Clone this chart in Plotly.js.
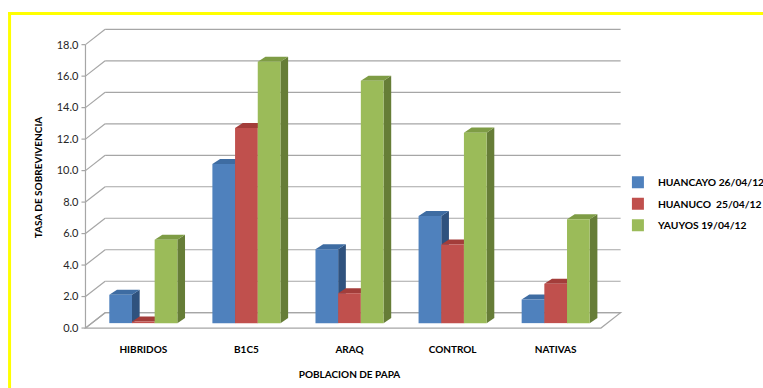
<!DOCTYPE html>
<html>
<head>
<meta charset="utf-8">
<script src="https://cdn.plot.ly/plotly-3.0.1.min.js"></script>
<style>html,body{margin:0;padding:0;background:#fff;}#chart{width:763px;height:388px;}</style>
</head>
<body>
<div id="chart"></div>
<script>
// ---- data ----
const categories = ['HIBRIDOS', 'B1C5', 'ARAQ', 'CONTROL', 'NATIVAS'];
const huancayo = [1.8, 10.1, 4.7, 6.8, 1.5];
const huanuco = [0.1, 12.4, 1.9, 5.0, 2.5];
const yauyos = [5.3, 16.6, 15.4, 12.1, 6.6];
const seriesNames = ['HUANCAYO 26/04/12', 'HUANUCO \u00a025/04/12', 'YAUYOS 19/04/12'];
const yTicks = [0, 2, 4, 6, 8, 10, 12, 14, 16, 18];

// ---- styling ----
const frontColors = ['#4F81BD', '#C0504D', '#9BBB59'];
const topColors = ['#3E6CA2', '#A33D3A', '#7E9C45'];
const sideColors = ['#2F527E', '#8A3432', '#667D37'];
const FONT = 'Lato, "Open Sans", sans-serif';

const W = 763, H = 388;
const mL = 65.5, mR = 129.9, mT = 24, mB = 57.44;
const xRange = [-0.75, 4.75], yRange = [-0.5, 19];
const pxPerX = (W - mL - mR) / (xRange[1] - xRange[0]);
const pxPerY = (H - mT - mB) / (yRange[1] - yRange[0]);
// 3D offsets (pixels -> data units)
const dxF = -6.3 / pxPerX, dyF = -4.9 / pxPerY;   // front plane
const dxB = 13.4 / pxPerX, dyB = 10.4 / pxPerY;   // back wall
const dxS = 7.7 / pxPerX, dyS = 5.0 / pxPerY;     // bar depth
const bargap = 0.34;
const bw = (1 - bargap) / 3;

const xIdx = categories.map((_, i) => i);
const series = [huancayo, huanuco, yauyos];

const traces = series.map((vals, s) => ({
  type: 'bar', name: seriesNames[s], x: xIdx, y: vals,
  legendgroup: 'g' + s,
  marker: {color: frontColors[s], line: {width: 0}},
  hoverinfo: 'x+y'
}));
// empty trace so the front-plane value axis (y2) is drawn
traces.push({type: 'scatter', x: [null], y: [null], yaxis: 'y2', showlegend: false,
  hoverinfo: 'skip'});

const shapes = [];
// yellow frame
shapes.push({type: 'line', xref: 'paper', yref: 'paper',
  x0: (7.5 - mL) / (W - mL - mR), x1: (W + 5 - mL) / (W - mL - mR),
  y0: (H - mB - 13.5) / (H - mT - mB), y1: (H - mB - 13.5) / (H - mT - mB),
  line: {color: '#FFFF00', width: 3}});
shapes.push({type: 'line', xref: 'paper', yref: 'paper',
  x0: (9 - mL) / (W - mL - mR), x1: (9 - mL) / (W - mL - mR),
  y0: (H - mB - 12) / (H - mT - mB), y1: (H - mB - H - 5) / (H - mT - mB),
  line: {color: '#FFFF00', width: 3}});

const gridLine = {color: '#A6A6A6', width: 1.2};
const xL = -0.5, xR = 4.5;
// floor
shapes.push({type: 'path', xref: 'x', yref: 'y', layer: 'below',
  path: `M${xL + dxF},${dyF} L${xR + dxF},${dyF} L${xR + dxB},${dyB} L${xL + dxB},${dyB} Z`,
  fillcolor: '#FFFFFF', line: gridLine});
// back wall grid and side wall slants
yTicks.forEach(v => {
  shapes.push({type: 'line', xref: 'x', yref: 'y', layer: 'below',
    x0: xL + dxB, x1: xR + dxB, y0: v + dyB, y1: v + dyB, line: gridLine});
  shapes.push({type: 'line', xref: 'x', yref: 'y', layer: 'below',
    x0: xL + dxF, x1: xL + dxB, y0: v + dyF, y1: v + dyB, line: gridLine});
  shapes.push({type: 'line', xref: 'x', yref: 'y', layer: 'below',
    x0: xL + dxF - 4 / pxPerX, x1: xL + dxF, y0: v + dyF, y1: v + dyF, line: gridLine});
});
// front vertical axis line
shapes.push({type: 'line', xref: 'x', yref: 'y', layer: 'below',
  x0: xL + dxF, x1: xL + dxF, y0: dyF, y1: yTicks[yTicks.length - 1] + dyF, line: gridLine});

// bar side and top faces (below traces so neighbouring front faces occlude them)
series.forEach((vals, s) => {
  vals.forEach((v, i) => {
    const c = i + (s - 1) * bw;
    const l = c - bw / 2, r = c + bw / 2;
    shapes.push({type: 'path', xref: 'x', yref: 'y', layer: 'below',
      path: `M${r},0 L${r + dxS},${dyS} L${r + dxS},${v + dyS} L${r},${v} Z`,
      fillcolor: sideColors[s], line: {width: 0}});
    shapes.push({type: 'path', xref: 'x', yref: 'y', layer: 'below',
      path: `M${l},${v} L${l + dxS},${v + dyS} L${r + dxS},${v + dyS} L${r},${v} Z`,
      fillcolor: topColors[s], line: {width: 0}});
  });
});

const axisPos = (78 - mL) / (W - mL - mR);
const layout = {
  width: W, height: H,
  margin: {l: mL, r: mR, t: mT, b: mB, autoexpand: false},
  paper_bgcolor: '#FFFFFF', plot_bgcolor: 'rgba(0,0,0,0)',
  barmode: 'group', bargap: bargap, bargroupgap: 0,
  font: {family: FONT, color: '#000'},
  showlegend: true,
  legend: {x: (618 - mL) / (W - mL - mR), xanchor: 'left',
    y: (H - mB - 167.5) / (H - mT - mB), yanchor: 'top',
    font: {family: FONT, size: 10.3, weight: 700, color: '#000'},
    bgcolor: 'rgba(0,0,0,0)', borderwidth: 0,
    traceorder: 'grouped', tracegroupgap: 2.5},
  xaxis: {type: 'linear', range: xRange, tickvals: xIdx, ticktext: categories,
    showgrid: false, zeroline: false, showline: false, ticks: '',
    ticklabelshift: -6.3, ticklabelstandoff: 11,
    tickfont: {family: FONT, size: 10, weight: 700, color: '#000'},
    title: {text: 'POBLACION DE PAPA', standoff: 16,
      font: {family: FONT, size: 10, weight: 700, color: '#000'}},
    fixedrange: true},
  yaxis: {range: yRange, showticklabels: false,
    showgrid: false, zeroline: false, showline: false, ticks: '',
    fixedrange: true},
  yaxis2: {range: [yRange[0] - dyF, yRange[1] - dyF], overlaying: 'y',
    anchor: 'free', position: axisPos, side: 'left',
    tickvals: yTicks, tickformat: '.1f',
    showgrid: false, zeroline: false, showline: false, ticks: '',
    tickfont: {family: FONT, size: 11, color: '#262626'},
    title: {text: 'TASA DE SOBREVIVENCIA', standoff: 11,
      font: {family: FONT, size: 10, weight: 700, color: '#000'}},
    fixedrange: true},
  shapes: shapes
};

Plotly.newPlot('chart', traces, layout, {displayModeBar: false, staticPlot: true});
</script>
</body>
</html>
